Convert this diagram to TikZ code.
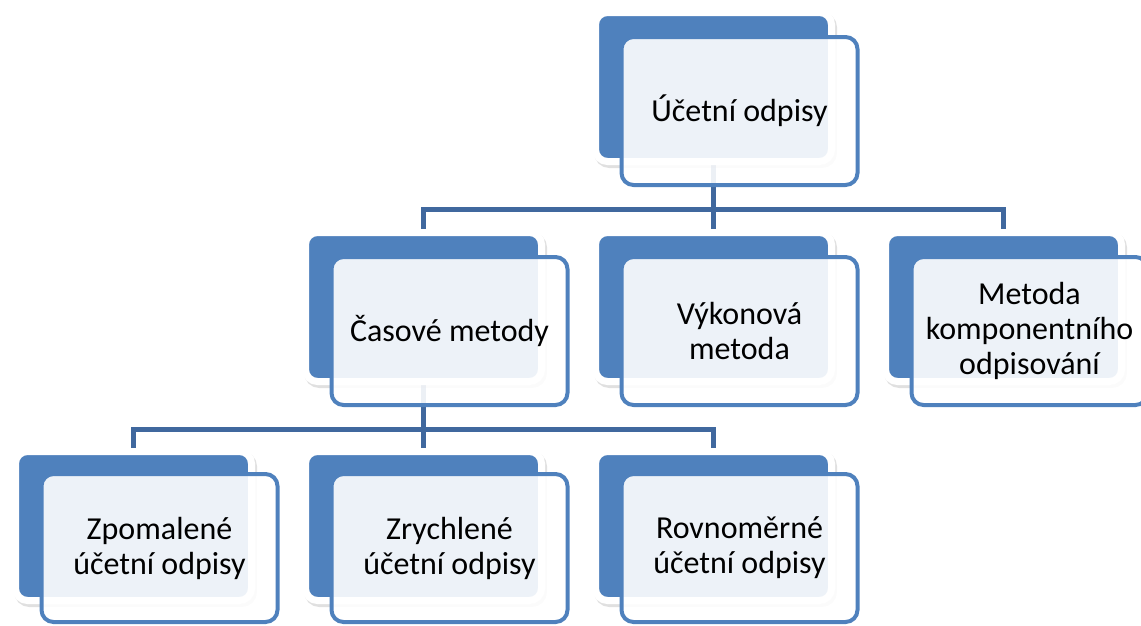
\documentclass[tikz,border=0pt]{standalone}
\usepackage{fontspec}
\setmainfont{Carlito}
\usetikzlibrary{calc,backgrounds}
\definecolor{boxblue}{RGB}{79,129,189}
\definecolor{linkblue}{RGB}{64,104,158}

\begin{document}
\begin{tikzpicture}[x=1pt,y=-1pt,
  backbox/.style={rectangle,rounded corners=12pt,fill=boxblue,draw=white,line width=7pt,
    minimum width=236pt,minimum height=149pt,inner sep=0pt,
    preaction={draw=black,fill=black,opacity=0.12,transform canvas={xshift=2pt,yshift=-3pt}}},
  frontbox/.style={rectangle,rounded corners=12pt,draw=boxblue,line width=4pt,
    fill=white,fill opacity=0.9,text opacity=1,minimum width=236pt,minimum height=148pt,
    inner sep=0pt,align=center,font=\fontsize{32}{35}\selectfont},
  link/.style={draw=linkblue,line width=5pt}]
\useasboundingbox (0,0) rectangle (1141,625);

% top
\node[backbox] (top) at (713.5,87) {};
\node[frontbox] (topf) at ($(top)+(26,24)$) {Účetní odpisy};

% second row
\node[backbox] (cas) at (423.5,307) {};
\node[frontbox] (casf) at ($(cas)+(26,24)$) {Časové metody};
\node[backbox] (vyk) at (713.5,307) {};
\node[frontbox] (vykf) at ($(vyk)+(26,24)$) {Výkonová\\metoda};
\node[backbox] (met) at (1003.5,307) {};
\node[frontbox] (metf) at ($(met)+(26,24)$) {Metoda\\komponentního\\odpisování};

% third row
\node[backbox] (zpo) at (133.5,526) {};
\node[frontbox] (zpof) at ($(zpo)+(26,22)$) {Zpomalené\\účetní odpisy};
\node[backbox] (zry) at (423.5,526) {};
\node[frontbox] (zryf) at ($(zry)+(26,22)$) {Zrychlené\\účetní odpisy};
\node[backbox] (rov) at (713.5,526) {};
\node[frontbox] (rovf) at ($(rov)+(26,22)$) {Rovnoměrné\\účetní odpisy};

% connectors
\begin{scope}[on background layer]
\draw[link] (top.center) -- ++(0,122.5) -| (cas.center);
\draw[link] (top.center) -- ++(0,122.5) -| (vyk.center);
\draw[link] (top.center) -- ++(0,122.5) -| (met.center);
\draw[link] (cas.center) -- ++(0,122.5) -| (zpo.center);
\draw[link] (cas.center) -- ++(0,122.5) -| (zry.center);
\draw[link] (cas.center) -- ++(0,122.5) -| (rov.center);
\end{scope}
\end{tikzpicture}
\end{document}
